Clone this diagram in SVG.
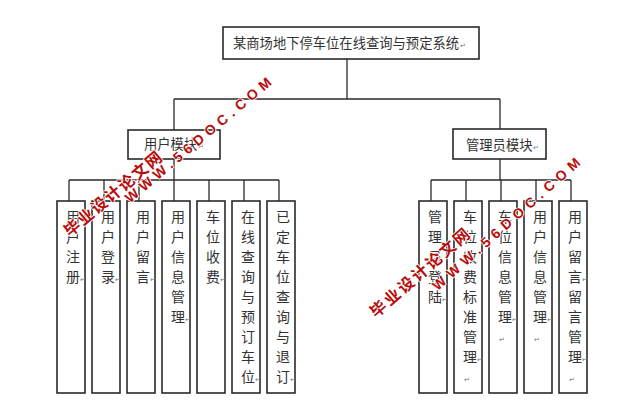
<svg xmlns="http://www.w3.org/2000/svg" width="636" height="408" viewBox="0 0 636 408">
<style>
.bx{fill:#fff;stroke:#2a2a2a;stroke-width:1.6}
.ln{fill:none;stroke:#2a2a2a;stroke-width:1.3}
.t{font-family:"Noto Sans CJK SC","Noto Sans",sans-serif;font-size:13.3px;fill:#333}
.v{font-family:"Noto Sans CJK SC","Noto Sans",sans-serif;font-size:14px;fill:#333;text-anchor:middle}
.pm{font-family:"DejaVu Sans",sans-serif;font-size:7px;fill:#777}
.wm{font-weight:bold;fill:#b80c0c;stroke:#fff;stroke-width:1.6;paint-order:stroke;text-anchor:middle;dominant-baseline:central}
.we{font-family:"Liberation Sans",Arial,sans-serif;font-size:14px}
.wc{font-family:"Noto Sans CJK SC",sans-serif;font-size:16px}
</style>
<rect width="636" height="408" fill="#fff"/>
<g id="connectors" class="ln">
<path d="M347 59V99M174 99H500M174 99V130M500 99V129"/>
<path d="M174 159V180M69 180H279M69 180V201M104 180V201M139 180V201M174 180V201M209 180V201M244 180V201M279 180V201"/>
<path d="M500 159V180M431 180H571M431 180V201M466 180V201M501 180V201M536 180V201M571 180V201"/>
</g>
<g id="root">
<rect class="bx" x="223" y="27" width="256" height="32"/>
<text class="t" x="233" y="48">某商场地下停车位在线查询与预定系统</text>
<text class="pm" x="460" y="48">↵</text>
</g>
<g id="user-module">
<rect class="bx" x="128" y="130" width="92" height="29"/>
<text class="t" x="144" y="149">用户模块</text>
<text class="pm" x="198" y="149">↵</text>
</g>
<g id="admin-module">
<rect class="bx" x="453" y="129" width="93" height="30"/>
<text class="t" x="466" y="150">管理员模块</text>
<text class="pm" x="533" y="150">↵</text>
</g>
<g id="u1"><rect class="bx" x="57" y="201" width="28" height="192"/>
<text class="v" y="222"><tspan x="73">用</tspan><tspan x="73" dy="20">户</tspan><tspan x="73" dy="20">注</tspan><tspan x="73" dy="20">册</tspan></text>
<text class="pm" x="80" y="282">↵</text></g>
<g id="u2"><rect class="bx" x="92" y="201" width="28" height="192"/>
<text class="v" y="222"><tspan x="108">用</tspan><tspan x="108" dy="20">户</tspan><tspan x="108" dy="20">登</tspan><tspan x="108" dy="20">录</tspan></text>
<text class="pm" x="115" y="282">↵</text></g>
<g id="u3"><rect class="bx" x="127" y="201" width="28" height="192"/>
<text class="v" y="222"><tspan x="143">用</tspan><tspan x="143" dy="20">户</tspan><tspan x="143" dy="20">留</tspan><tspan x="143" dy="20">言</tspan></text>
<text class="pm" x="150" y="282">↵</text></g>
<g id="u4"><rect class="bx" x="162" y="201" width="28" height="192"/>
<text class="v" y="222"><tspan x="178">用</tspan><tspan x="178" dy="20">户</tspan><tspan x="178" dy="20">信</tspan><tspan x="178" dy="20">息</tspan><tspan x="178" dy="20">管</tspan><tspan x="178" dy="20">理</tspan></text>
<text class="pm" x="185" y="322">↵</text></g>
<g id="u5"><rect class="bx" x="197" y="201" width="28" height="192"/>
<text class="v" y="222"><tspan x="213">车</tspan><tspan x="213" dy="20">位</tspan><tspan x="213" dy="20">收</tspan><tspan x="213" dy="20">费</tspan></text>
<text class="pm" x="220" y="282">↵</text></g>
<g id="u6"><rect class="bx" x="232" y="201" width="28" height="192"/>
<text class="v" y="222"><tspan x="248">在</tspan><tspan x="248" dy="20">线</tspan><tspan x="248" dy="20">查</tspan><tspan x="248" dy="20">询</tspan><tspan x="248" dy="20">与</tspan><tspan x="248" dy="20">预</tspan><tspan x="248" dy="20">订</tspan><tspan x="248" dy="20">车</tspan><tspan x="248" dy="20">位</tspan></text>
<text class="pm" x="255" y="382">↵</text></g>
<g id="u7"><rect class="bx" x="267" y="201" width="28" height="192"/>
<text class="v" y="222"><tspan x="283">已</tspan><tspan x="283" dy="20">定</tspan><tspan x="283" dy="20">车</tspan><tspan x="283" dy="20">位</tspan><tspan x="283" dy="20">查</tspan><tspan x="283" dy="20">询</tspan><tspan x="283" dy="20">与</tspan><tspan x="283" dy="20">退</tspan><tspan x="283" dy="20">订</tspan></text>
<text class="pm" x="290" y="382">↵</text></g>
<g id="a1"><rect class="bx" x="419" y="201" width="28" height="192"/>
<text class="v" y="222"><tspan x="435">管</tspan><tspan x="435" dy="20">理</tspan><tspan x="435" dy="20">员</tspan><tspan x="435" dy="20">登</tspan><tspan x="435" dy="20">陆</tspan></text>
<text class="pm" x="442" y="302">↵</text></g>
<g id="a2"><rect class="bx" x="454" y="201" width="28" height="192"/>
<text class="v" y="222"><tspan x="470">车</tspan><tspan x="470" dy="20">位</tspan><tspan x="470" dy="20">收</tspan><tspan x="470" dy="20">费</tspan><tspan x="470" dy="20">标</tspan><tspan x="470" dy="20">准</tspan><tspan x="470" dy="20">管</tspan><tspan x="470" dy="20">理</tspan></text>
<text class="pm" x="477" y="362">↵</text><text class="pm" x="464" y="382">↵</text></g>
<g id="a3"><rect class="bx" x="489" y="201" width="28" height="192"/>
<text class="v" y="222"><tspan x="505">车</tspan><tspan x="505" dy="20">位</tspan><tspan x="505" dy="20">信</tspan><tspan x="505" dy="20">息</tspan><tspan x="505" dy="20">管</tspan><tspan x="505" dy="20">理</tspan></text>
<text class="pm" x="512" y="322">↵</text><text class="pm" x="499" y="342">↵</text></g>
<g id="a4"><rect class="bx" x="524" y="201" width="28" height="192"/>
<text class="v" y="222"><tspan x="540">用</tspan><tspan x="540" dy="20">户</tspan><tspan x="540" dy="20">信</tspan><tspan x="540" dy="20">息</tspan><tspan x="540" dy="20">管</tspan><tspan x="540" dy="20">理</tspan></text>
<text class="pm" x="547" y="322">↵</text><text class="pm" x="534" y="342">↵</text></g>
<g id="a5"><rect class="bx" x="559" y="201" width="28" height="192"/>
<text class="v" y="222"><tspan x="575">用</tspan><tspan x="575" dy="20">户</tspan><tspan x="575" dy="20">留</tspan><tspan x="575" dy="20">言</tspan><tspan x="575" dy="20">留</tspan><tspan x="575" dy="20">言</tspan><tspan x="575" dy="20">管</tspan><tspan x="575" dy="20">理</tspan></text>
<text class="pm" x="582" y="282">↵</text><text class="pm" x="582" y="362">↵</text><text class="pm" x="569" y="382">↵</text></g>
<g id="watermarks">
<text class="wm we" x="198" y="140" transform="rotate(-40 198 140)" textLength="186" lengthAdjust="spacing">WWW.56DOC.COM</text>
<text class="wm wc" x="112" y="193" transform="rotate(-40 112 193)" textLength="122" lengthAdjust="spacing">毕业设计论文网</text>
<text class="wm we" x="506" y="224" transform="rotate(-41.5 506 224)" textLength="192" lengthAdjust="spacing">WWW.56DOC.COM</text>
<text class="wm wc" x="419" y="272" transform="rotate(-41 419 272)" textLength="126" lengthAdjust="spacing">毕业设计论文网</text>
</g>
</svg>
